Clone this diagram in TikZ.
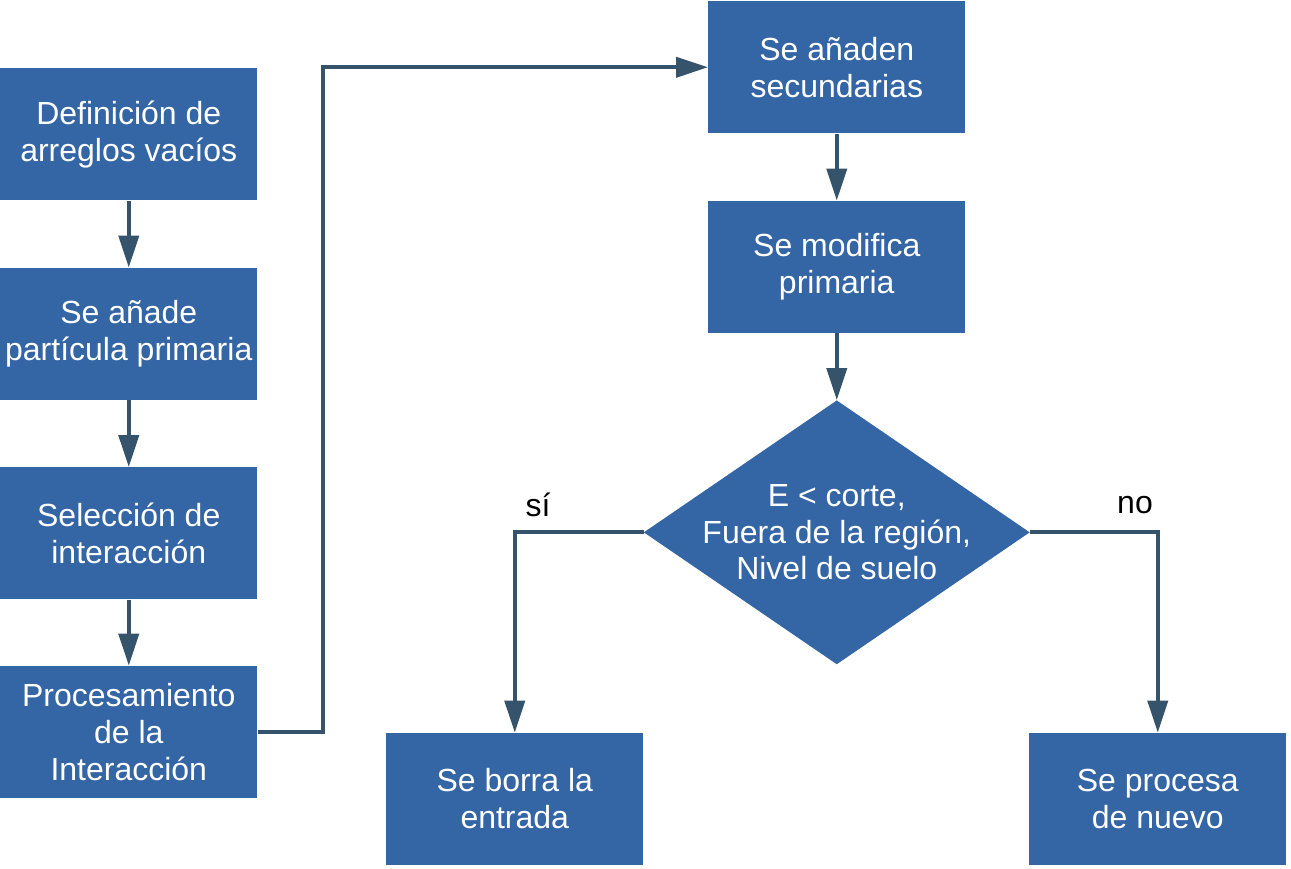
\documentclass[tikz,border=0pt]{standalone}
\usepackage{fontspec}
\setmainfont{Liberation Sans}
\usepackage{tikz}
\usetikzlibrary{positioning, calc, arrows.meta, shapes.geometric}
\definecolor{boxblue}{HTML}{3465A4}
\definecolor{linkcol}{HTML}{35536B}
\tikzset{box/.style={rectangle, fill=boxblue, text=white, inner sep=0pt,
    minimum width=192.75pt, minimum height=99pt, align=center}}
\tikzset{decision/.style={diamond, fill=boxblue, inner sep=0pt,
    minimum width=289.5pt, minimum height=198pt}}
\tikzset{link/.style={draw=linkcol, line width=3pt,
    -{Triangle[width=15pt, length=24pt]}}}

\begin{document}
\begin{tikzpicture}[x=0.75pt, y=-0.75pt,
    every node/.style={font=\fontsize{24}{27.6}\selectfont}]

      \useasboundingbox (0,0) rectangle (1291,868);

      % LEFT COLUMN

      \node[box, anchor=north west] (def) at (0,68) {Definición de\\arreglos vacíos};
      \node[box, anchor=north] (anade) at ($(def.south)+(0,67)$) {Se añade\\partícula primaria};
      \node[box, anchor=north] (selec) at ($(anade.south)+(0,67)$) {Selección de\\interacción};
      \node[box, anchor=north] (proc) at ($(selec.south)+(0,66)$) {Procesamiento\\de la\\Interacción};

      % RIGHT COLUMN

      \node[box, anchor=north west] (sec) at (708,1) {Se añaden\\secundarias};
      \node[box, anchor=north] (mod) at ($(sec.south)+(0,67)$) {Se modifica\\primaria};
      \node[decision, anchor=north] (cond) at ($(mod.south)+(0,67)$) {};
      \node[text=white, align=center] (condtxt) at (cond.center) {E < corte,\\Fuera de la región,\\Nivel de suelo};
      \node[box, anchor=north] (borra) at ($(cond.south)+(-322,68)$) {Se borra la\\entrada};
      \node[box, anchor=north] (nuevo) at ($(cond.south)+(321,68)$) {Se procesa\\de nuevo};

      % LABELS

      \node (si) at (538,505) {sí};
      \node (no) at (1135,505) {no};

      % ARCS

      \draw[link] (def.south) -- (anade.north);
      \draw[link] (anade.south) -- (selec.north);
      \draw[link] (selec.south) -- (proc.north);
      \draw[link] (proc.east) -- ($(proc.east)+(65,0)$) |- (sec.west);
      \draw[link] (sec.south) -- (mod.north);
      \draw[link] (mod.south) -- (cond.north);
      \draw[link] (cond.west) -| (borra.north);
      \draw[link] (cond.east) -| (nuevo.north);
    \end{tikzpicture}
\end{document}
